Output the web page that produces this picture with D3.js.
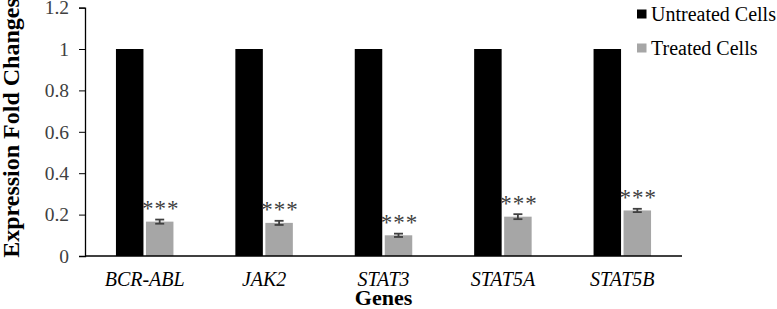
<!DOCTYPE html>
<html><head><meta charset="utf-8">
<script src="https://cdn.jsdelivr.net/npm/d3@7"></script>
<style>body{margin:0;background:#fff}svg{display:block}</style>
</head><body><div id="c"></div>
<script>
const genes = ["BCR-ABL","JAK2","STAT3","STAT5A","STAT5B"];
const untreated = [1,1,1,1,1];
const treated = [0.166,0.16,0.10,0.19,0.22];
const treatedErr = [0.01,0.01,0.008,0.012,0.008];
const sigLabels = ["***","***","***","***","***"];
const yTicks = [0,0.2,0.4,0.6,0.8,1,1.2];
const seriesNames = ["Untreated Cells","Treated Cells"];
const seriesColors = ["#000000","#a6a6a6"];

const FONT = "Liberation Serif";
const W=777,H=309;
const m={l:85,r:95,t:7.6,b:53};
const svg=d3.select("#c").append("svg").attr("width",W).attr("height",H).style("font-family",FONT);
const x=d3.scaleBand().domain(genes).range([m.l,W-m.r]).paddingInner(0).paddingOuter(0);
const y=d3.scaleLinear().domain([0,1.2]).range([H-m.b,m.t]);
const bw=27.5, gap=2.5;

const yAx=svg.append("g").attr("transform",`translate(${m.l},0)`)
 .call(d3.axisLeft(y).tickValues(yTicks).tickSize(6).tickPadding(10).tickFormat(d=>d3.format("")(+d.toFixed(1))));
yAx.attr("font-family",FONT).attr("font-size",19.5);
yAx.select(".domain").attr("stroke","#000").attr("stroke-width",1.3);
yAx.selectAll(".tick line").attr("stroke","#000");
yAx.selectAll("text").style("font-family",FONT).attr("fill","#404040");

const g=svg.append("g");
genes.forEach((gname,i)=>{
  const c=x(gname)+x.bandwidth()/2;
  g.append("rect").attr("x",c-gap/2-bw).attr("width",bw).attr("y",y(untreated[i])).attr("height",y(0)-y(untreated[i])).attr("fill",seriesColors[0]);
  g.append("rect").attr("x",c+gap/2).attr("width",bw).attr("y",y(treated[i])).attr("height",y(0)-y(treated[i])).attr("fill",seriesColors[1]);
  const ec=c+gap/2+bw/2;
  const e=g.append("g").attr("stroke","#404040").attr("stroke-width",1.8);
  e.append("line").attr("x1",ec).attr("x2",ec).attr("y1",y(treated[i]-treatedErr[i])).attr("y2",y(treated[i]+treatedErr[i]));
  e.append("line").attr("x1",ec-4.5).attr("x2",ec+4.5).attr("y1",y(treated[i]+treatedErr[i])).attr("y2",y(treated[i]+treatedErr[i]));
  e.append("line").attr("x1",ec-4.5).attr("x2",ec+4.5).attr("y1",y(treated[i]-treatedErr[i])).attr("y2",y(treated[i]-treatedErr[i]));
  g.append("text").attr("x",ec+1).attr("y",y(treated[i]+treatedErr[i])-3.5).attr("text-anchor","middle")
   .style("font-family",FONT).attr("font-size",23).attr("fill","#404040").attr("letter-spacing",1).text(sigLabels[i]);
  g.append("text").attr("x",c).attr("y",286).attr("text-anchor","middle").style("font-family",FONT)
   .attr("font-style","italic").attr("font-size",20).attr("fill","#000").text(gname);
});
svg.append("line").attr("x1",m.l).attr("x2",W-m.r).attr("y1",y(0)).attr("y2",y(0)).attr("stroke","#000").attr("stroke-width",1.3);

svg.append("text").attr("x",(m.l+W-m.r)/2).attr("y",305).attr("text-anchor","middle").style("font-family",FONT)
 .attr("font-weight","bold").attr("font-size",22).text("Genes");
svg.append("text").attr("transform",`translate(19,128) rotate(-90)`).attr("text-anchor","middle").style("font-family",FONT)
 .attr("font-weight","bold").attr("font-size",24).text("Expression Fold Changes");

seriesNames.forEach((s,i)=>{
  const ly=14+i*34;
  svg.append("rect").attr("x",637).attr("y",ly-4.5).attr("width",9.5).attr("height",9).attr("fill",seriesColors[i]);
  svg.append("text").attr("x",651).attr("y",ly+6.5).style("font-family",FONT).attr("font-size",20).attr("fill","#000").text(s);
});
</script></body></html>
